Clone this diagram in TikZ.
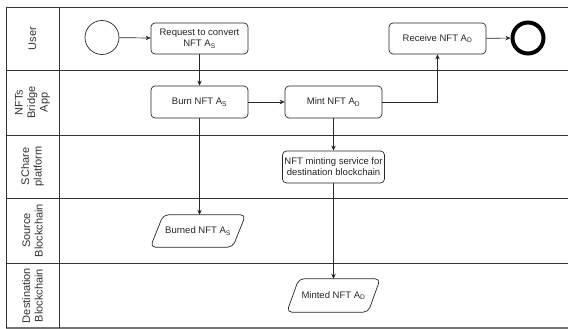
\documentclass[tikz,border=0pt]{standalone}
\usepackage{fontspec}
\setmainfont{Liberation Sans}
\usetikzlibrary{shapes.geometric,arrows.meta}
\begin{document}
\begin{tikzpicture}[x=1pt,y=-1pt,
  lane/.style={draw=black!80,line width=0.8pt},
  hdr/.style={rotate=90,font=\fontsize{11}{12.5}\selectfont,text=black!80,align=center},
  stepbox/.style={draw=black!85,line width=0.7pt,rounded corners=4pt,minimum width=97pt,minimum height=31pt,align=center,font=\fontsize{9.5}{11}\selectfont,text=black!85,inner sep=1pt},
  databox/.style={rectangle,minimum width=95pt,minimum height=32pt,font=\fontsize{9.5}{11}\selectfont,text=black!85,inner sep=1pt},
  dataline/.style={draw=black!85,line width=0.7pt,rounded corners=5pt},
  flow/.style={draw=black!85,line width=0.7pt,-{Stealth[length=5pt,width=4.5pt]}}]
\useasboundingbox (0,0) rectangle (568,329);
% swimlanes
\foreach \yy in {7,70,135,198,263} \draw[lane] (6,\yy) -- (568,\yy);
\draw[draw=black!55,line width=1.4pt] (6,328) -- (568,328);
\draw[lane] (6,7) -- (6,328);
\draw[lane] (59,7) -- (59,328);
\node[hdr] (hUser) at (32.5,38.5) {User};
\node[hdr] (hApp) at (32.5,102.5) {NFTs\\Bridge\\App};
\node[hdr] (hSch) at (32.5,166.5) {SChare\\platform};
\node[hdr] (hSrc) at (32.5,230.5) {Source\\Blockchain};
\node[hdr] (hDst) at (32.5,295.5) {Destination\\Blockchain};
% nodes
\node[draw=black!85,line width=0.7pt,circle,minimum size=34pt,inner sep=0pt] (start) at (102,37.5) {};
\node[stepbox] (req) at (199.5,38.5) {Request to convert\\NFT A\textsubscript{S}};
\node[stepbox] (recv) at (437.5,38.5) {Receive NFT A\textsubscript{D}};
\node[draw=black,line width=4pt,circle,minimum size=31pt,inner sep=0pt] (end) at (528,38) {};
\node[stepbox,minimum height=32pt] (burn) at (199.5,102) {Burn NFT A\textsubscript{S}};
\node[stepbox,minimum height=32pt] (mint) at (333.5,102) {Mint NFT A\textsubscript{D}};
\node[stepbox,minimum width=102pt,minimum height=32pt] (svc) at (333.5,167) {NFT minting service for\\destination blockchain};
\node[databox] (burned) at (198,231) {Burned NFT A\textsubscript{S}};
\draw[dataline] ([xshift=13pt]burned.north west) -- (burned.north east) -- ([xshift=-13pt]burned.south east) -- (burned.south west) -- cycle;
\node[databox,minimum width=93pt,minimum height=33pt] (minted) at (333.5,295.5) {Minted NFT A\textsubscript{D}};
\draw[dataline] ([xshift=12pt]minted.north west) -- (minted.north east) -- ([xshift=-12pt]minted.south east) -- (minted.south west) -- cycle;
% connectors
\draw[flow] (start) -- (req);
\draw[flow] (req) -- (burn);
\draw[flow] (burn) -- (mint);
\draw[flow] (mint.east) -| (recv.south);
\draw[flow] (recv) -- (end);
\draw[flow] (mint) -- (svc);
\draw[flow] (burn.south) -- (burn.south |- burned.north);
\draw[flow] (svc.south) -- (svc.south |- minted.north);
\end{tikzpicture}
\end{document}
